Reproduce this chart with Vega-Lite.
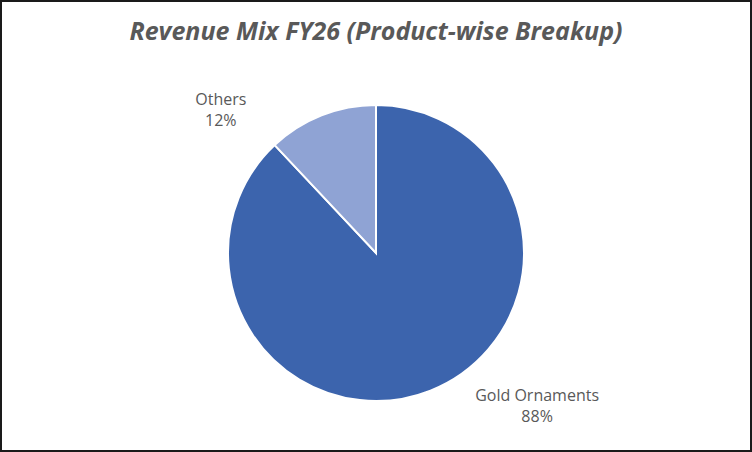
{
  "$schema": "https://vega.github.io/schema/vega-lite/v6.json",
  "description": "Revenue Mix FY26 product-wise pie",
  "autosize": "none",
  "width": 750,
  "height": 450,
  "padding": 1,
  "background": "white",
  "title": {
    "text": "Revenue Mix FY26 (Product-wise Breakup)",
    "font": "Open Sans",
    "fontSize": 25,
    "fontWeight": "bold",
    "fontStyle": "italic",
    "color": "#595959",
    "anchor": "middle",
    "offset": -45
  },
  "data": {
    "values": [
      {"product": "Gold Ornaments", "share": 88},
      {"product": "Others", "share": 12}
    ]
  },
  "transform": [
    {"calculate": "datum.product + '\\n' + datum.share + '%'", "as": "label"}
  ],
  "layer": [
    {
      "data": {"values": [{}]},
      "transform": [],
      "mark": {"type": "rect", "fill": "white", "stroke": "#1a1a1a", "strokeWidth": 2}
    },
    {
      "mark": {"type": "arc", "outerRadius": 148, "stroke": "white", "strokeWidth": 2, "yOffset": 27},
      "encoding": {
        "theta": {"field": "share", "type": "quantitative", "stack": true},
        "order": {"field": "product", "sort": "ascending"},
        "color": {
          "field": "product",
          "type": "nominal",
          "scale": {"domain": ["Gold Ornaments", "Others"], "range": ["#3C64AD", "#8FA3D4"]},
          "legend": null
        }
      }
    },
    {
      "mark": {"type": "text", "radius": 150, "dx": -100, "dy": 13, "lineBreak": "\n", "font": "Open Sans", "fontSize": 16, "align": "center", "baseline": "middle", "lineHeight": 21},
      "encoding": {
        "theta": {"field": "share", "type": "quantitative", "stack": true},
        "order": {"field": "product", "sort": "ascending"},
        "text": {"condition": {"test": "datum.product == 'Others'", "field": "label"}, "value": ""},
        "color": {"value": "#595959"}
      }
    },
    {
      "mark": {"type": "text", "radius": 166, "dx": 100, "dy": 16, "lineBreak": "\n", "font": "Open Sans", "fontSize": 16, "align": "center", "baseline": "middle", "lineHeight": 21},
      "encoding": {
        "theta": {"field": "share", "type": "quantitative", "stack": true},
        "order": {"field": "product", "sort": "ascending"},
        "text": {"condition": {"test": "datum.product == 'Gold Ornaments'", "field": "label"}, "value": ""},
        "color": {"value": "#595959"}
      }
    }
  ]
}
